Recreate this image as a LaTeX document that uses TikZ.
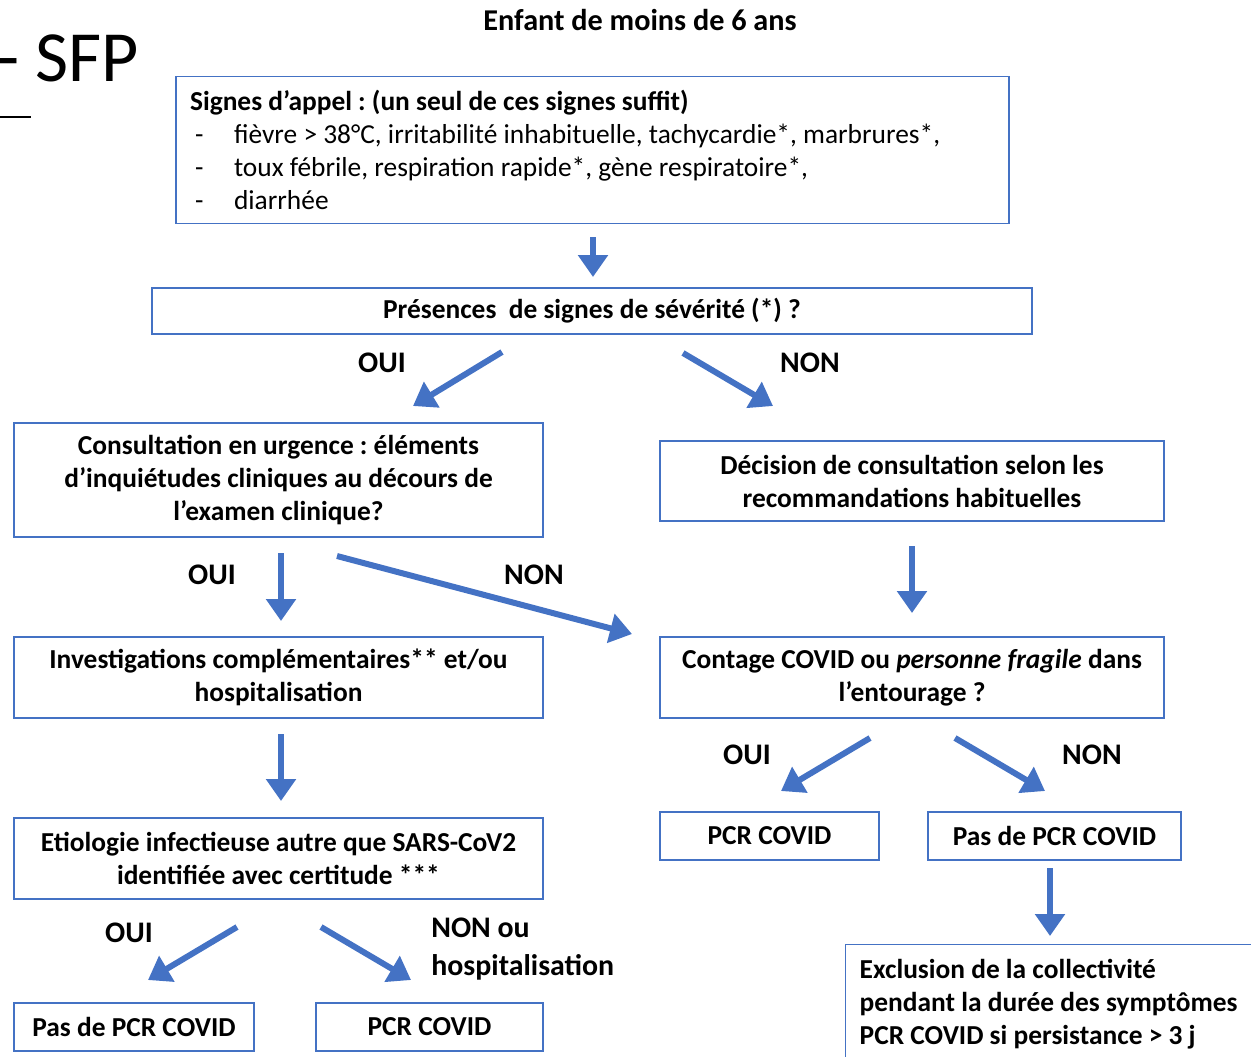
\documentclass[tikz,border=0pt]{standalone}
\usepackage{fontspec}
\setmainfont{Carlito}
\usetikzlibrary{arrows.meta}
\frenchspacing

\definecolor{officeblue}{HTML}{4472C4}

\begin{document}
\begin{tikzpicture}[x=0.02cm, y=-0.02cm,
    box/.style={draw=officeblue, line width=0.8pt, inner sep=0pt, align=center,
        font=\fontsize{15.6}{18.8}\selectfont\bfseries},
    lab/.style={font=\fontsize{17}{20.5}\selectfont\bfseries, inner sep=0pt},
    arr/.style={officeblue, line width=0.12cm, -{Triangle[length=0.44cm, width=0.58cm]}}]
    \useasboundingbox (0,0) rectangle (1251,1056);

    % header
    \node[font=\fontsize{41}{48}\selectfont, anchor=west, inner sep=0pt] (sfp) at (-3,58) {- SFP};
    \coordinate (ulA) at (0,117);
    \coordinate (ulB) at (31,117);
    \draw[line width=0.9pt] (ulA) -- (ulB);
    \node[font=\fontsize{17.2}{20}\selectfont\bfseries] (title) at (640,20) {Enfant de moins de 6 ans};

    % signes d'appel
    \node[box, minimum width=16.66cm, minimum height=2.94cm, align=flush left, text width=16.1cm,
        font=\fontsize{15.6}{18.8}\selectfont] (signes) at (592.5,150)
        {\textbf{Signes d’appel : (un seul de ces signes suffit)}\\
         \makebox[0.88cm][l]{\hspace{0.1cm}-}fièvre > 38°C, irritabilité inhabituelle, tachycardie*, marbrures*,\\
         \makebox[0.88cm][l]{\hspace{0.1cm}-}toux fébrile, respiration rapide*, gène respiratoire*,\\
         \makebox[0.88cm][l]{\hspace{0.1cm}-}diarrhée};

    % severite
    \node[box, minimum width=17.6cm, minimum height=0.92cm] (severe) at (592,311)
        {Présences~ de signes de sévérité (*) ?};

    % branche gauche
    \node[box, minimum width=10.58cm, minimum height=2.28cm] (urgence) at (278.5,480)
        {Consultation en urgence : éléments\\d’inquiétudes cliniques au décours de\\l’examen clinique?};
    \node[box, minimum width=10.58cm, minimum height=1.62cm] (invest) at (278.5,677.5)
        {Investigations complémentaires** et/ou\\hospitalisation};
    \node[box, minimum width=10.58cm, minimum height=1.62cm] (etio) at (278.5,858.5)
        {Etiologie infectieuse autre que SARS-CoV2\\identifiée avec certitude ***};
    \node[box, minimum width=4.8cm, minimum height=0.96cm] (pasA) at (134,1027) {Pas de PCR COVID};
    \node[box, minimum width=4.54cm, minimum height=0.96cm] (pcrA) at (429.5,1027) {PCR COVID};

    % branche droite
    \node[box, minimum width=10.08cm, minimum height=1.6cm] (decision) at (912,481)
        {Décision de consultation selon les\\recommandations habituelles};
    \node[box, minimum width=10.08cm, minimum height=1.62cm] (contage) at (912,677.5)
        {Contage COVID ou \textit{personne fragile} dans\\l’entourage ?};
    \node[box, minimum width=4.38cm, minimum height=0.96cm] (pcrB) at (769.5,836) {PCR COVID};
    \node[box, minimum width=5.06cm, minimum height=0.96cm] (pasB) at (1054.5,836) {Pas de PCR COVID};
    \node[box, anchor=north west, minimum width=8.5cm, align=flush left,
        text width=7.94cm] (exclu) at (845,944)
        {\rule{0pt}{0.68cm}Exclusion de la collectivité\\pendant la durée des symptômes\\PCR COVID si persistance > 3 j\rule[-1cm]{0pt}{0pt}};

    % labels
    \node[lab] (l1) at (382,363) {OUI};
    \node[lab] (l2) at (810,363) {NON};
    \node[lab] (l3) at (212,575) {OUI};
    \node[lab] (l4) at (534,575) {NON};
    \node[lab] (l5) at (747,755) {OUI};
    \node[lab] (l6) at (1092,755) {NON};
    \node[lab] (l7) at (129,933) {OUI};
    \node[lab, anchor=west, align=flush left, font=\fontsize{17}{21.5}\selectfont\bfseries] (l8) at (431,949)
        {NON ou\\hospitalisation};

    % fleches
    \coordinate (a1) at (593,237);   \coordinate (b1) at (593,277);
    \coordinate (a2) at (502,352);   \coordinate (b2) at (413,406);
    \coordinate (a3) at (683,353);   \coordinate (b3) at (773,406);
    \coordinate (a4) at (281,553);   \coordinate (b4) at (281,621);
    \coordinate (a5) at (337,556);   \coordinate (b5) at (632,634);
    \coordinate (a6) at (912,546);   \coordinate (b6) at (912,613);
    \coordinate (a7) at (281,734);   \coordinate (b7) at (281,801);
    \coordinate (a8) at (870,738);   \coordinate (b8) at (781,791);
    \coordinate (a9) at (955,738);   \coordinate (b9) at (1045,791);
    \coordinate (a10) at (1050,868); \coordinate (b10) at (1050,936);
    \coordinate (a11) at (237,927);  \coordinate (b11) at (148,980);
    \coordinate (a12) at (321,927);  \coordinate (b12) at (411,980);
    \foreach \i in {1,...,12}
        \draw[arr] (a\i) -- (b\i);
\end{tikzpicture}
\end{document}
